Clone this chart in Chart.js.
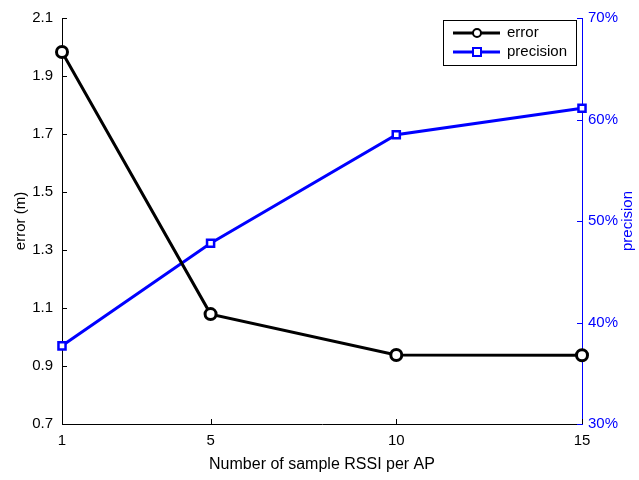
<!DOCTYPE html>
<html>
<head>
<meta charset="utf-8">
<script src="https://cdn.jsdelivr.net/npm/chart.js@4"></script>
<style>
  html, body { margin: 0; padding: 0; background: #fff; }
  #wrap { width: 639px; height: 480px; }
</style>
</head>
<body>
<div id="wrap"><canvas id="c" width="639" height="480"></canvas></div>
<script>
const samples = [1, 5, 10, 15];
const errorVals = [1.983, 1.079, 0.938, 0.937];
const precisionVals = [37.7, 47.8, 58.5, 61.1];
const xTicks = [1, 5, 10, 15];
const errorTicks = [0.7, 0.9, 1.1, 1.3, 1.5, 1.7, 1.9, 2.1];
const precisionTicks = [30, 40, 50, 60, 70];

const FONT = "'Liberation Sans', Arial, sans-serif";
const BLUE = "#0000ff";

function fixTicks(list) {
  return scale => { scale.ticks = list.map(v => ({ value: v })); };
}

// matlab style inward ticks, right axis title and the boxed legend
const matlabBits = {
  id: "matlabBits",
  afterDraw(chart) {
    const ctx = chart.ctx;
    const a = chart.chartArea;
    const x = chart.scales.x, y = chart.scales.y, y1 = chart.scales.y1;
    ctx.save();
    ctx.lineWidth = 1;

    ctx.strokeStyle = "#000";
    xTicks.forEach(v => {
      const px = Math.round(x.getPixelForValue(v)) + 0.5;
      ctx.beginPath(); ctx.moveTo(px, a.bottom); ctx.lineTo(px, a.bottom - 5); ctx.stroke();
    });
    errorTicks.forEach(v => {
      const py = Math.round(y.getPixelForValue(v)) + 0.5;
      ctx.beginPath(); ctx.moveTo(a.left, py); ctx.lineTo(a.left + 5, py); ctx.stroke();
    });
    ctx.strokeStyle = BLUE;
    precisionTicks.forEach(v => {
      const py = Math.round(y1.getPixelForValue(v)) + 0.5;
      ctx.beginPath(); ctx.moveTo(a.right, py); ctx.lineTo(a.right - 5, py); ctx.stroke();
    });

    // right title, reads bottom to top
    ctx.fillStyle = BLUE;
    ctx.font = "15px " + FONT;
    ctx.textAlign = "center";
    ctx.textBaseline = "middle";
    ctx.translate(628, (a.top + a.bottom) / 2);
    ctx.rotate(-Math.PI / 2);
    ctx.fillText("precision", 0, 0);
    ctx.setTransform(1, 0, 0, 1, 0, 0);

    // legend
    const bx = 443.5, by = 20.5, bw = 133, bh = 45;
    ctx.fillStyle = "#fff";
    ctx.fillRect(bx, by, bw, bh);
    ctx.strokeStyle = "#000";
    ctx.strokeRect(bx, by, bw, bh);
    chart.data.datasets.forEach((ds, i) => {
      const ry = 33 + i * 19;
      ctx.strokeStyle = ds.borderColor;
      ctx.lineWidth = 3;
      ctx.beginPath(); ctx.moveTo(453, ry); ctx.lineTo(500, ry); ctx.stroke();
      ctx.lineWidth = 2;
      ctx.fillStyle = "#fff";
      ctx.beginPath();
      if (ds.pointStyle === "rect") ctx.rect(473, ry - 4, 8, 8);
      else ctx.arc(477, ry, 4, 0, Math.PI * 2);
      ctx.fill(); ctx.stroke();
      ctx.fillStyle = "#000";
      ctx.font = "15px " + FONT;
      ctx.textAlign = "left";
      ctx.textBaseline = "middle";
      ctx.fillText(ds.label, 507, ry);
    });
    ctx.restore();
  }
};

new Chart(document.getElementById("c"), {
  type: "line",
  data: {
    datasets: [
      {
        label: "error",
        data: samples.map((s, i) => ({ x: s, y: errorVals[i] })),
        yAxisID: "y",
        borderColor: "#000",
        borderWidth: 3,
        pointStyle: "circle",
        pointRadius: 5.5,
        pointBorderWidth: 3,
        pointBackgroundColor: "#fff",
        pointBorderColor: "#000",
        tension: 0
      },
      {
        label: "precision",
        data: samples.map((s, i) => ({ x: s, y: precisionVals[i] })),
        yAxisID: "y1",
        borderColor: BLUE,
        borderWidth: 3,
        pointStyle: "rect",
        pointRadius: 5,
        pointBorderWidth: 2.5,
        pointBackgroundColor: "#fff",
        pointBorderColor: BLUE,
        tension: 0
      }
    ]
  },
  options: {
    responsive: false,
    animation: false,
    clip: false,
    layout: { padding: { top: 14, left: 0, right: 0, bottom: 0 } },
    plugins: { legend: { display: false }, tooltip: { enabled: false } },
    scales: {
      x: {
        type: "linear",
        min: 1, max: 15,
        afterBuildTicks: fixTicks(xTicks),
        afterFit: s => { s.height = 56; },
        grid: { display: false, drawTicks: false },
        border: { display: true, color: "#000", width: 1 },
        ticks: { color: "#000", padding: 8, font: { family: FONT, size: 15 }, maxRotation: 0 },
        title: { display: true, text: "Number of sample RSSI per AP", color: "#000",
                 font: { family: FONT, size: 16 }, padding: { top: 0, bottom: 6 } }
      },
      y: {
        position: "left",
        min: 0.7, max: 2.1,
        afterBuildTicks: fixTicks(errorTicks),
        afterFit: s => { s.width = 62; },
        grid: { display: false, drawTicks: false },
        border: { display: true, color: "#000", width: 1 },
        ticks: { color: "#000", padding: 9, font: { family: FONT, size: 15 },
                 callback: v => v.toFixed(1) },
        title: { display: true, text: "error (m)", color: "#000",
                 font: { family: FONT, size: 15 }, padding: { top: 12, bottom: 0 } }
      },
      y1: {
        position: "right",
        min: 30, max: 70,
        afterBuildTicks: fixTicks(precisionTicks),
        afterFit: s => { s.width = 57; },
        grid: { display: false, drawTicks: false },
        border: { display: true, color: BLUE, width: 1 },
        ticks: { color: BLUE, padding: 6, font: { family: FONT, size: 15 },
                 callback: v => v + "%" }
      }
    }
  },
  plugins: [matlabBits]
});
</script>
</body>
</html>
